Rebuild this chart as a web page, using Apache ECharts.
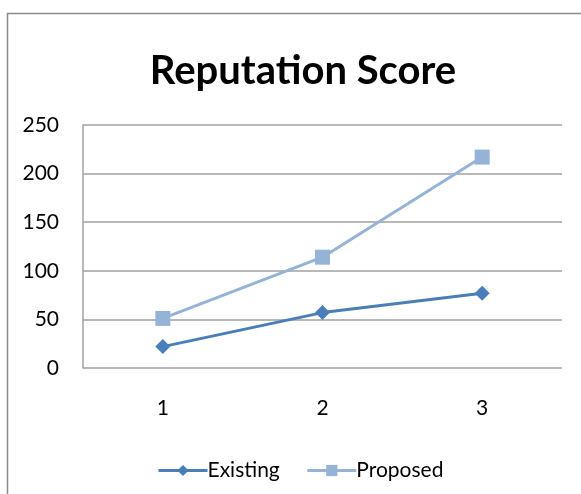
<!DOCTYPE html>
<html>
<head>
<meta charset="utf-8">
<script src="https://cdn.jsdelivr.net/npm/echarts@6/dist/echarts.min.js"></script>
<style>
html,body{margin:0;padding:0;background:#fff;}
#chart{width:581px;height:494px;}
</style>
</head>
<body>
<div id="chart"></div>
<script>
const categories = ['1', '2', '3'];
const existing = [22, 57, 77];
const proposed = [51, 114, 217];
const yTicks = [0, 50, 100, 150, 200, 250];

const chart = echarts.init(document.getElementById('chart'), null, {renderer: 'canvas'});
const font = 'Lato, "Open Sans", sans-serif';
chart.setOption({
  animation: false,
  backgroundColor: '#fff',
  graphic: [{
    type: 'rect',
    shape: {x: 7.5, y: 13.5, width: 700, height: 600},
    style: {fill: 'none', stroke: '#8a8a8a', lineWidth: 1.5},
    z: -1
  }],
  title: {
    text: 'Reputation Score',
    left: 298,
    textAlign: 'center',
    top: 46,
    textStyle: {fontFamily: font, fontWeight: 'bold', fontSize: 40, color: '#000'}
  },
  legend: {
    left: 152,
    top: 455,
    itemWidth: 49,
    itemHeight: 14,
    itemGap: 26,
    lineStyle: {width: 3},
    textStyle: {fontFamily: font, fontSize: 21, color: '#000', padding: [0, 0, 0, -5]},
    data: ['Existing', 'Proposed']
  },
  grid: {left: 83, right: 19, top: 125, bottom: 126, containLabel: false},
  xAxis: {
    type: 'category',
    data: categories,
    boundaryGap: true,
    axisLine: {show: false},
    axisTick: {show: false},
    axisLabel: {fontFamily: font, fontSize: 21, color: '#000', margin: 30}
  },
  yAxis: {
    type: 'value',
    min: yTicks[0],
    max: yTicks[yTicks.length - 1],
    interval: 50,
    axisLine: {show: true, lineStyle: {color: '#a0a0a0', width: 1.5}},
    axisTick: {show: false},
    splitLine: {show: true, lineStyle: {color: '#a0a0a0', width: 1.5}},
    axisLabel: {fontFamily: font, fontSize: 21, color: '#000', margin: 24}
  },
  series: [
    {
      name: 'Existing',
      type: 'line',
      data: existing,
      symbol: 'diamond',
      symbolSize: 15,
      lineStyle: {color: '#4a7ebb', width: 3},
      itemStyle: {color: '#4a7ebb'},
      z: 3
    },
    {
      name: 'Proposed',
      type: 'line',
      data: proposed,
      symbol: 'rect',
      symbolSize: 15,
      lineStyle: {color: '#95b3d7', width: 3},
      itemStyle: {color: '#95b3d7'},
      z: 2
    }
  ]
});
</script>
</body>
</html>
